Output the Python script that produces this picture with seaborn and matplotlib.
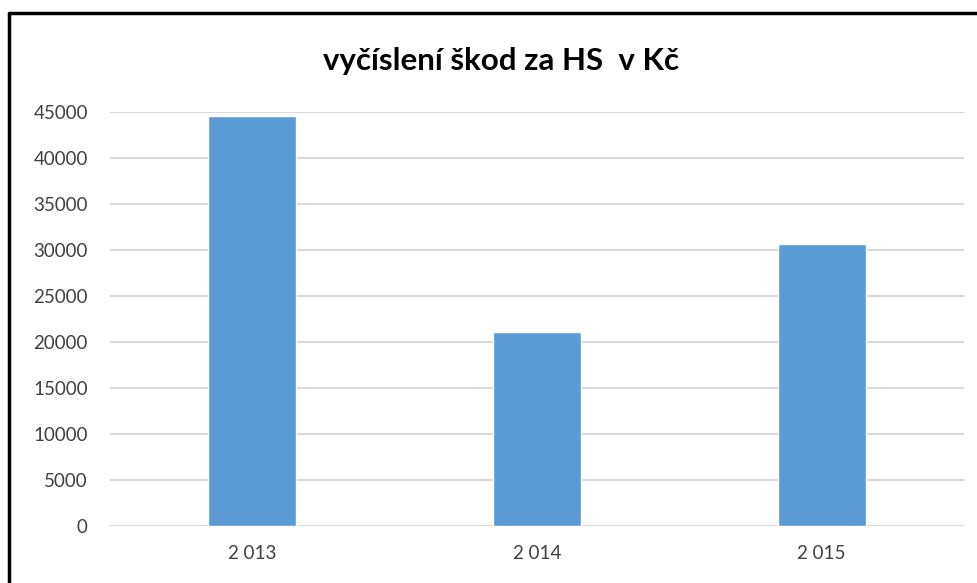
import matplotlib
matplotlib.use("Agg")
import matplotlib.pyplot as plt
import seaborn as sns
import pandas as pd
from matplotlib.lines import Line2D

# ---------------- data ----------------
years = ["2 013", "2 014", "2 015"]
damages = [44550, 21100, 30700]
y_ticks = [0, 5000, 10000, 15000, 20000, 25000, 30000, 35000, 40000, 45000]
title = "vyčíslení škod za HS  v Kč"

df = pd.DataFrame({"Rok": years, "Škoda": damages})

# ---------------- plot ----------------
sns.set_style("white")
plt.rcParams["font.family"] = ["Lato", "DejaVu Sans"]

fig = plt.figure(figsize=(9.78, 5.83), dpi=100)
ax = fig.add_axes([0.1125, 0.0978, 0.8732, 0.7101])

sns.barplot(data=df, x="Rok", y="Škoda", color="#5B9BD5", width=0.31,
            saturation=1, ax=ax, zorder=3)

ax.set_xlim(-0.5, 2.5)
ax.set_ylim(0, 45000)
ax.set_yticks(y_ticks)
ax.set_yticklabels([str(t) for t in y_ticks])
ax.yaxis.grid(True, color="#D9D9D9", linewidth=1.5, zorder=0)
ax.set_axisbelow(True)
for s in ax.spines.values():
    s.set_visible(False)
ax.tick_params(axis="y", length=0, pad=16, labelsize=13.5, labelcolor="#404040")
ax.tick_params(axis="x", length=0, pad=14, labelsize=13.5, labelcolor="#404040")
ax.set_xlabel("")
ax.set_ylabel("")

fig.text(0.512, 0.895, title, ha="center", va="center", fontsize=22.5,
         fontweight="bold", color="black")

# chart frame (top and left edges visible)
fig.add_artist(Line2D([0.0092, 1.0], [0.9777, 0.9777], color="black",
                      linewidth=2.5, transform=fig.transFigure))
fig.add_artist(Line2D([0.0092, 0.0092], [0.0, 0.9777], color="black",
                      linewidth=2.5, transform=fig.transFigure))

fig.savefig("out.png", dpi=100)
